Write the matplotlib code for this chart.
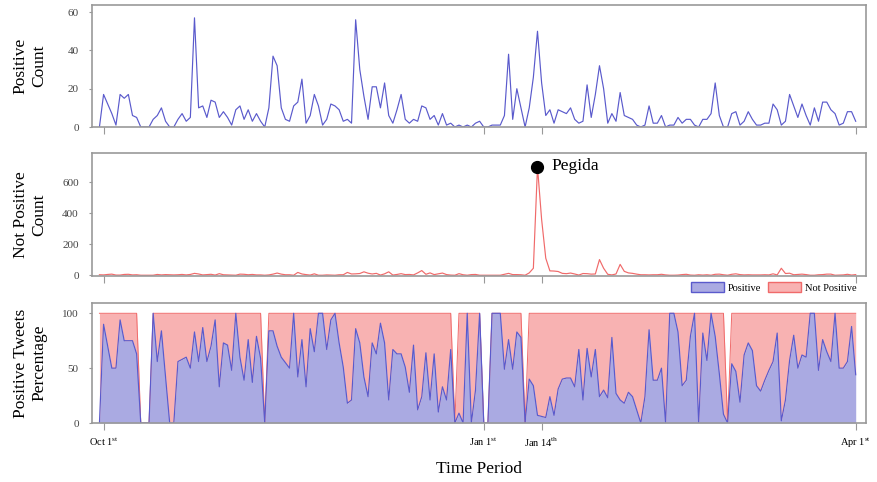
import numpy as np
import matplotlib
matplotlib.use("Agg")
import matplotlib.pyplot as plt
from matplotlib.patches import Patch

plt.rcParams['font.family'] = ['Liberation Serif', 'DejaVu Serif']
plt.rcParams['mathtext.fontset'] = 'custom'
plt.rcParams['mathtext.rm'] = 'Liberation Serif'

# daily counts, Sep 30 .. Apr 1
positive = [0, 17, 12, 7, 1, 17, 15, 17, 6, 5,
            0, 0, 0, 4, 6, 10, 3, 0, 0, 4,
            7, 3, 5, 57, 10, 11, 5, 14, 13, 5,
            8, 5, 1, 9, 11, 4, 9, 3, 7, 3,
            0, 10, 37, 32, 10, 4, 3, 11, 13, 25,
            2, 6, 17, 11, 1, 4, 12, 11, 9, 3,
            4, 2, 56, 30, 16, 4, 21, 21, 10, 23,
            6, 2, 9, 17, 4, 2, 4, 3, 11, 10,
            4, 6, 1, 7, 1, 2, 0, 1, 0, 1,
            0, 2, 3, 0, 0, 1, 1, 1, 6, 38,
            4, 20, 10, 0, 10, 26, 50, 23, 6, 9,
            2, 9, 8, 7, 10, 4, 2, 3, 22, 5,
            17, 32, 20, 2, 7, 3, 18, 6, 5, 4,
            1, 0, 1, 11, 2, 2, 6, 0, 1, 1,
            5, 2, 4, 4, 1, 0, 4, 4, 7, 23,
            6, 0, 0, 7, 8, 1, 3, 8, 4, 1,
            1, 2, 2, 12, 9, 1, 3, 17, 11, 5,
            12, 6, 1, 10, 3, 13, 13, 9, 7, 1,
            2, 8, 8, 3]

not_positive = [3, 2, 5, 7, 1, 1, 5, 6, 2, 3,
                0, 0, 0, 0, 5, 2, 4, 3, 2, 3,
                5, 2, 5, 12, 8, 2, 4, 6, 1, 10,
                3, 2, 1, 0, 7, 6, 3, 5, 2, 2,
                0, 2, 7, 14, 7, 3, 3, 0, 18, 8,
                4, 1, 9, 0, 0, 2, 1, 0, 3, 3,
                18, 8, 9, 11, 22, 13, 8, 12, 1, 9,
                22, 1, 5, 10, 4, 5, 2, 15, 30, 6,
                15, 4, 9, 14, 4, 1, 0, 10, 3, 0,
                4, 5, 0, 0, 0, 0, 0, 0, 6, 12,
                4, 4, 3, 0, 15, 45, 700, 360, 110, 28,
                27, 24, 12, 10, 14, 8, 1, 11, 10, 7,
                8, 101, 45, 6, 2, 8, 70, 25, 15, 12,
                7, 3, 3, 2, 3, 3, 6, 2, 0, 0,
                1, 4, 6, 1, 0, 3, 1, 3, 0, 6,
                7, 3, 0, 6, 9, 4, 2, 3, 2, 2,
                2, 3, 2, 9, 2, 45, 11, 13, 3, 5,
                7, 4, 0, 0, 3, 4, 7, 7, 0, 1,
                2, 6, 1, 4]

# share of positive tweets per day (%)
positive_pct = [0, 90, 70, 50, 50, 94, 75, 75, 75, 63,
                0, 0, 0, 100, 56, 84, 42, 0, 0, 56,
                58, 60, 50, 83, 56, 87, 56, 70, 94, 33,
                73, 71, 48, 100, 60, 39, 76, 37, 79, 59,
                0, 84, 84, 70, 60, 55, 50, 100, 42, 76,
                33, 86, 65, 100, 100, 67, 94, 100, 73, 51,
                18, 21, 86, 73, 42, 24, 73, 63, 91, 73,
                21, 67, 63, 63, 51, 28, 71, 12, 24, 64,
                21, 63, 10, 33, 21, 67, 0, 9, 0, 100,
                0, 30, 100, 0, 0, 100, 100, 100, 49, 76,
                49, 83, 78, 0, 40, 34, 7, 6, 5, 24,
                7, 31, 40, 41, 41, 33, 67, 21, 68, 42,
                67, 24, 30, 23, 78, 27, 21, 18, 28, 24,
                12, 0, 24, 85, 39, 39, 50, 0, 100, 100,
                83, 34, 39, 79, 100, 0, 82, 57, 100, 79,
                45, 8, 0, 54, 47, 19, 62, 73, 66, 34,
                29, 39, 48, 56, 82, 2, 21, 57, 80, 50,
                62, 60, 100, 100, 48, 76, 65, 56, 100, 50,
                50, 56, 88, 44]

tick_pos = [1, 93, 107, 183]
tick_labels = [r'Oct 1$^{\mathrm{st}}$', r'Jan 1$^{\mathrm{st}}$',
               r'Jan 14$^{\mathrm{th}}$', r'Apr 1$^{\mathrm{st}}$']
peak_day = 106

days = np.arange(len(positive))
pos = np.array(positive, dtype=float)
neg = np.array(not_positive, dtype=float)
pct = np.array(positive_pct, dtype=float)
has_data = (pos + neg) > 0
top = np.where(has_data, 100.0, 0.0)

blue_line = '#5a5acc'
red_line = '#f06a6a'
blue_fill = '#aaaae2'
red_fill = '#f8b2b2'

fig = plt.figure(figsize=(8.77, 4.82), dpi=100)
ax1 = fig.add_axes([0.1049, 0.7365, 0.8826, 0.2531])
ax2 = fig.add_axes([0.1049, 0.4274, 0.8826, 0.2552])
ax3 = fig.add_axes([0.1049, 0.1224, 0.8826, 0.2490])

ax1.plot(days, pos, color=blue_line, lw=0.85)
ax1.set_ylim(0, 63.7)
ax1.set_yticks([0, 20, 40, 60])
ax1.set_ylabel('Positive\nCount', fontsize=12.5)

ax2.plot(days, neg, color=red_line, lw=0.85)
ax2.plot(peak_day, neg[peak_day], 'o', color='black', ms=8.5)
ax2.annotate('Pegida', (peak_day, neg[peak_day]), xytext=(10, 1),
             textcoords='offset points', va='center', fontsize=12.5)
ax2.set_ylim(-5, 790)
ax2.set_yticks([0, 200, 400, 600])
ax2.set_ylabel('Not Positive\nCount', fontsize=12.5)

ax3.fill_between(days, 0, pct, color=blue_fill, lw=0)
ax3.fill_between(days, pct, top, color=red_fill, lw=0)
ax3.plot(days, top, color=red_line, lw=0.7)
ax3.plot(days, pct, color=blue_line, lw=0.85)
ax3.set_ylim(0, 109.4)
ax3.set_yticks([0, 50, 100])
ax3.set_ylabel('Positive Tweets\nPercentage', fontsize=12.5)
ax3.set_xlabel('Time Period', fontsize=12.5, labelpad=8)

handles = [Patch(facecolor=blue_fill, edgecolor=blue_line, label='Positive'),
           Patch(facecolor=red_fill, edgecolor=red_line, label='Not Positive')]
ax3.legend(handles=handles, loc='lower right', bbox_to_anchor=(0.995, 1.04),
           ncol=2, frameon=False, fontsize=7.5, handlelength=3.2,
           handleheight=1.1, columnspacing=0.6, handletextpad=0.4,
           borderaxespad=0.1)

for ax in (ax1, ax2, ax3):
    ax.set_xlim(-1.8, 185.5)
    ax.set_xticks(tick_pos)
    ax.set_xticklabels(tick_labels if ax is ax3 else [])
    ax.tick_params(axis='x', direction='out', length=5, width=0.8,
                   color='#999999', labelsize=7.5, pad=4)
    ax.tick_params(axis='y', direction='out', length=2.5, width=0.8,
                   color='#999999', labelsize=8, labelcolor='#444444', pad=7)
    for s in ax.spines.values():
        s.set_color('#999999')
        s.set_linewidth(1.2)
    ax.yaxis.set_label_coords(-0.058, 0.5)

plt.savefig('out.png', dpi=100)
